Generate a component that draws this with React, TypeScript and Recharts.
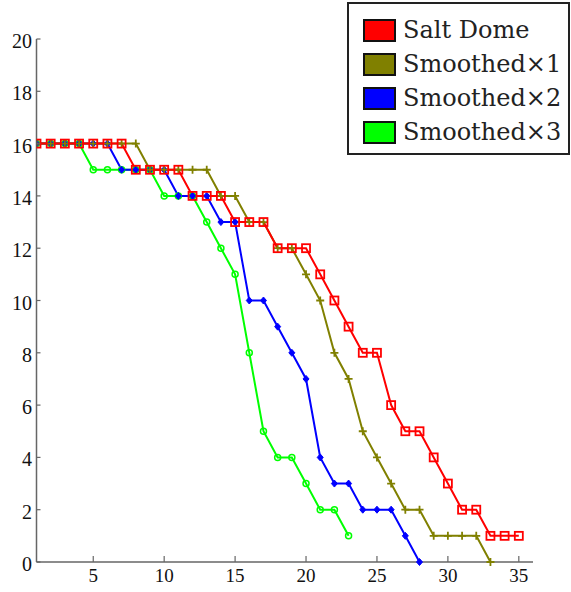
import React from "react";
import { LineChart, Line, XAxis, YAxis } from "recharts";

const xValues = [1,2,3,4,5,6,7,8,9,10,11,12,13,14,15,16,17,18,19,20,21,22,23,24,25,26,27,28,29,30,31,32,33,34,35];
const saltDome = [16,16,16,16,16,16,16,15,15,15,15,14,14,14,13,13,13,12,12,12,11,10,9,8,8,6,5,5,4,3,2,2,1,1,1];
const smoothed1 = [16,16,16,16,16,16,16,16,15,15,15,15,15,14,14,13,13,12,12,11,10,8,7,5,4,3,2,2,1,1,1,1,0];
const smoothed2 = [16,16,16,16,16,16,15,15,15,15,14,14,14,13,13,10,10,9,8,7,4,3,3,2,2,2,1,0];
const smoothed3 = [16,16,16,16,15,15,15,15,15,14,14,14,13,12,11,8,5,4,4,3,2,2,1];
const xTicks = [5,10,15,20,25,30,35];
const yTicks = [0,2,4,6,8,10,12,14,16,18,20];

const seriesNames = ["Salt Dome", "Smoothed\u00d71", "Smoothed\u00d72", "Smoothed\u00d73"];
const seriesColors = ["#ff0000", "#808000", "#0000ff", "#00ff00"];

const data = xValues.map((x, i) => ({
  x,
  s0: saltDome[i],
  s1: smoothed1[i],
  s2: smoothed2[i],
  s3: smoothed3[i],
}));

const AXIS = "#666666";
const FONT = "'Liberation Serif', serif";

const XTick = (props: any) => {
  const { x, y, payload } = props;
  return (
    <g>
      <line x1={x} y1={y} x2={x} y2={y - 6} stroke={AXIS} strokeWidth={1.2} />
      <text x={x} y={y + 20} textAnchor="middle" fontFamily={FONT} fontSize={19} fill="#111">
        {payload.value}
      </text>
    </g>
  );
};

const YTick = (props: any) => {
  const { x, y, payload } = props;
  return (
    <g>
      <line x1={x} y1={y} x2={x + 4} y2={y} stroke={AXIS} strokeWidth={1.2} />
      <text x={x - 4.5} y={y + 9} textAnchor="end" fontFamily={FONT} fontSize={20} fill="#111">
        {payload.value}
      </text>
    </g>
  );
};

const squareDot = (props: any) => {
  const { cx, cy, index } = props;
  if (cx == null || cy == null || props.value == null) return <g key={"sq" + index} />;
  return <rect key={"sq" + index} x={cx - 4} y={cy - 4} width={8} height={8} fill="none" stroke="#ff0000" strokeWidth={1.8} />;
};
const plusDot = (props: any) => {
  const { cx, cy, index } = props;
  if (cx == null || cy == null || props.value == null) return <g key={"pl" + index} />;
  return (
    <path key={"pl" + index} d={`M${cx - 4},${cy}H${cx + 4}M${cx},${cy - 4}V${cy + 4}`} stroke="#808000" strokeWidth={1.8} fill="none" />
  );
};
const diamondDot = (props: any) => {
  const { cx, cy, index } = props;
  if (cx == null || cy == null || props.value == null) return <g key={"dm" + index} />;
  return (
    <path key={"dm" + index} d={`M${cx},${cy - 3.5}L${cx + 3},${cy}L${cx},${cy + 3.5}L${cx - 3},${cy}Z`} fill="#0000ff" stroke="#0000ff" strokeWidth={1} />
  );
};
const circleDot = (props: any) => {
  const { cx, cy, index } = props;
  if (cx == null || cy == null || props.value == null) return <g key={"ci" + index} />;
  return <circle key={"ci" + index} cx={cx} cy={cy} r={3} fill="none" stroke="#00ff00" strokeWidth={1.5} />;
};

const LegendBox = () => (
  <div
    style={{
      position: "absolute",
      left: 347,
      top: 2,
      width: 219,
      height: 149,
      border: "2px solid #222",
      background: "#fff",
      boxSizing: "content-box",
    }}
  >
    {seriesNames.map((name, i) => (
      <div
        key={name}
        style={{ position: "absolute", left: 14, top: 14 + i * 34, height: 24, display: "flex", alignItems: "center" }}
      >
        <div style={{ width: 29, height: 19, background: seriesColors[i], border: "2px solid #111" }} />
        <span
          style={{
            marginLeft: 7,
            fontFamily: "'DejaVu Serif', serif",
            fontSize: 24,
            color: "#222",
            lineHeight: "24px",
            whiteSpace: "nowrap",
          }}
        >
          {name}
        </span>
      </div>
    ))}
  </div>
);

export default function App() {
  return (
    <div style={{ position: "absolute", left: 0, top: 0, width: 571, height: 592, background: "#fff" }}>
      <LineChart width={571} height={592} data={data} margin={{ top: 39, right: 38, bottom: 0, left: 0 }}>
        <XAxis
          dataKey="x"
          type="number"
          domain={[1, 36]}
          ticks={xTicks}
          height={30}
          tickSize={0}
          tickMargin={0}
          tickLine={false}
          tick={<XTick />}
          axisLine={{ stroke: AXIS, strokeWidth: 1.5 }}
          allowDataOverflow
        />
        <YAxis
          type="number"
          domain={[0, 20]}
          ticks={yTicks}
          width={36.5}
          tickSize={0}
          tickMargin={0}
          tickLine={false}
          tick={<YTick />}
          axisLine={{ stroke: AXIS, strokeWidth: 1.5 }}
          interval={0}
        />
        <Line dataKey="s3" name={seriesNames[3]} stroke="#00ff00" strokeWidth={2} dot={circleDot} activeDot={false} isAnimationActive={false} />
        <Line dataKey="s2" name={seriesNames[2]} stroke="#0000ff" strokeWidth={2} dot={diamondDot} activeDot={false} isAnimationActive={false} />
        <Line dataKey="s1" name={seriesNames[1]} stroke="#808000" strokeWidth={2} dot={plusDot} activeDot={false} isAnimationActive={false} />
        <Line dataKey="s0" name={seriesNames[0]} stroke="#ff0000" strokeWidth={2} dot={squareDot} activeDot={false} isAnimationActive={false} />
      </LineChart>
      <LegendBox />
    </div>
  );
}
